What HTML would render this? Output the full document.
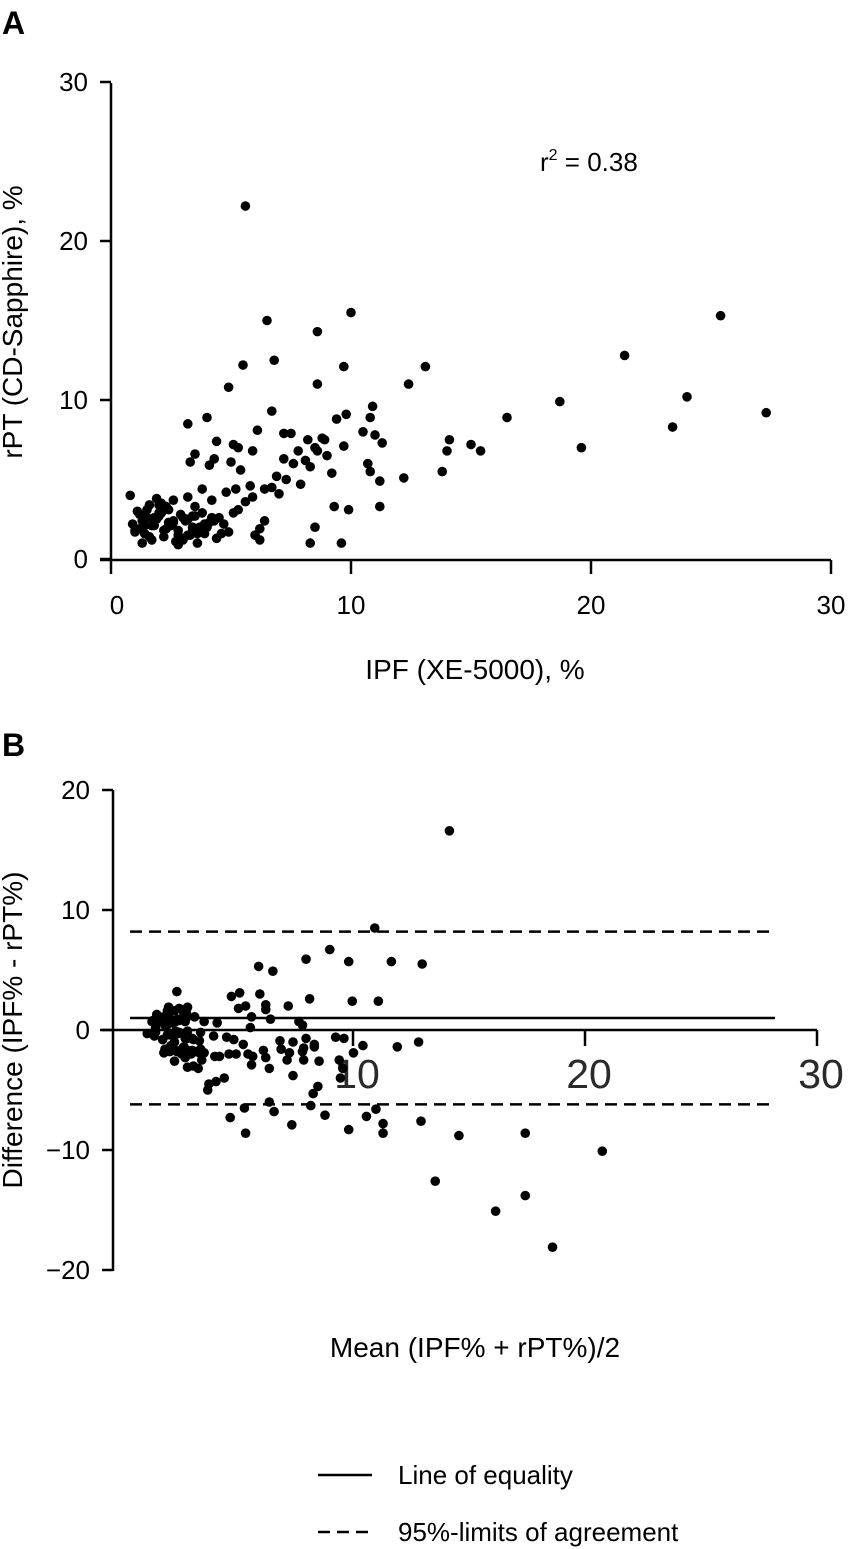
<!DOCTYPE html>
<html><head><meta charset="utf-8"><style>
body{margin:0;background:#fff}
svg{display:block;font-family:"Liberation Sans",sans-serif}
</style></head><body>
<svg id="fig" width="862" height="1549" viewBox="0 0 862 1549">
<text x="2" y="34" font-size="32" font-weight="bold">A</text>
<text x="2" y="756" font-size="32" font-weight="bold">B</text>
<g id="pa"></g>
<g id="pb"></g>
<g>
<line x1="318" y1="1475" x2="372" y2="1475" stroke="#000" stroke-width="2.5"/>
<text x="398" y="1484" font-size="26">Line of equality</text>
<line x1="318" y1="1532" x2="372" y2="1532" stroke="#000" stroke-width="2.5" stroke-dasharray="12,7"/>
<text x="398" y="1541" font-size="26">95%-limits of agreement</text>
</g>
</svg>
<script>
const ipf=[5.6,6.5,8.6,10,25.4,21.4,24,27.3,23.4,18.7,19.6,16.5,14.1,14,13.8,15,15.4,13.1,12.4,12.2,11.2,11.2,10.9,10.8,11.3,10.7,10.8,10.5,11,9.7,8.6,6.8,5.5,4.9,9.9,9.3,9.6,8.3,8.5,6.7,7.2,7.5,6.1,5.9,5.1,5.3,4.4,3.2,4,9,9.4,9.8,9.7,8.2,8.5,8.9,8.1,7.9,7.3,6.7,6.4,5.8,5.2,4.8,4.5,5.1,5.6,5.9,6.2,6.2,7.2,7.6,8.6,8.3,3.5,3.3,4.3,4.1,5,5.4,3.8,4.2,5.3,4.7,4.9,6,6.4,6.9,7,7.8,8.8,9.2,
0.9,1.2,1.4,1.6,1.8,2.0,2.2,2.4,2.6,2.8,3.0,3.2,3.4,3.6,3.8,1.0,1.3,1.5,1.7,1.9,2.1,2.3,2.5,2.7,2.9,3.1,3.3,3.5,3.7,3.9,4.1,1.1,1.4,1.8,2.2,2.6,3.0,3.4,3.8,4.2,0.8,1.2,1.6,2.0,2.4,2.8,3.2,3.6,4.0,4.4,1.0,1.5,2.0,2.5,3.0,3.5,1.3,1.9,2.6,3.2,3.9,2.1,2.8,3.4,4.6,4.3,1.7,2.3,2.9,3.6];
const rpt=[22.2,15,14.3,15.5,15.3,12.8,10.2,9.2,8.3,9.9,7,8.9,7.5,6.8,5.5,7.2,6.8,12.1,11,5.1,3.3,4.9,9.6,8.9,7.3,6,5.5,8,7.8,12.1,11,12.5,12.2,10.8,3.1,3.3,1,1,2,9.3,7.9,7.9,8.1,6.8,7.2,7,7.4,8.5,8.9,6.5,8.8,9.1,7.1,7.5,7,7.5,6.2,4.7,5,4.5,4.4,4.6,4.4,4.2,2.6,2.9,3.6,3.9,1.9,1.2,6.3,6,6.8,5.8,6.6,6.1,6.3,5.9,6.1,5.6,4.4,3.7,3.1,2.2,1.7,1.5,2.4,5.2,4.1,6.8,7.6,5.4,
2.2,2.8,1.6,3.4,2.1,2.7,1.4,3.1,2.3,1.8,2.6,3.9,2.0,1.6,2.9,1.7,2.4,3.1,1.2,2.5,3.5,1.9,2.2,1.1,2.8,2.4,1.5,3.3,2.0,1.6,2.3,3.0,2.1,2.6,1.8,3.7,1.3,2.7,1.9,2.6,4.0,1.9,1.4,2.9,2.3,0.9,2.5,1.7,2.0,1.3,1.8,2.6,3.4,2.1,1.2,2.7,1.0,3.8,2.4,1.5,2.2,2.9,1.5,1.9,1.6,2.4,2.1,3.3,1.2,1.0];
const aTicks=[0,10,20,30];
const bYTicks=[20,10,0,-10,-20];
const bXTickLabels=[10,20,30];
const meanDiff=[1.0];
const limits=[8.2,-6.2];
const NS="http://www.w3.org/2000/svg";
function mk(p,t,a){const e=document.createElementNS(NS,t);for(const k in a)e.setAttribute(k,a[k]);p.appendChild(e);return e;}
const pa=document.getElementById('pa'),pb=document.getElementById('pb');
const ax=v=>111+24*v, ay=v=>559-15.9*v;
let e=mk(pa,'line',{x1:111,y1:83,x2:111,y2:560,stroke:'#000','stroke-width':2.5});

e=mk(pa,'line',{x1:100,y1:560,x2:831,y2:560,stroke:'#000','stroke-width':2.5});

aTicks.forEach(t=>{
 e=mk(pa,'line',{x1:100,y1:ay(t),x2:111,y2:ay(t),stroke:'#000','stroke-width':2.5});
 
 e=mk(pa,'text',{x:88,y:ay(t)+9,'font-size':26,'text-anchor':'end'});e.textContent=t;
 
 e=mk(pa,'line',{x1:ax(t),y1:560,x2:ax(t),y2:574,stroke:'#000','stroke-width':2.5});
 
 e=mk(pa,'text',{x:ax(t)+(t==0?6:0),y:614,'font-size':26,'text-anchor':'middle'});e.textContent=t;
 
});
e=mk(pa,'text',{x:475,y:679,'font-size':28,'text-anchor':'middle'});e.textContent='IPF (XE-5000), %';

e=mk(pa,'text',{x:22,y:322,'font-size':28,'text-anchor':'middle',transform:'rotate(-90 22 322)'});e.textContent='rPT (CD-Sapphire), %';

e=mk(pa,'text',{x:540,y:171,'font-size':26});e.innerHTML='r<tspan font-size="16" dy="-11">2</tspan><tspan dy="11"> = 0.38</tspan>';

ipf.forEach((v,i)=>{e=mk(pa,'circle',{cx:ax(v),cy:ay(rpt[i]),r:4.8,fill:'#000'});
 });
const bx=v=>120+23.7*v, by=v=>1030-12*v, bl=v=>121+23.2*v;
e=mk(pb,'line',{x1:113,y1:790,x2:113,y2:1271,stroke:'#000','stroke-width':2.5});

e=mk(pb,'line',{x1:100,y1:1030,x2:817,y2:1030,stroke:'#000','stroke-width':2.5});

bYTicks.forEach(t=>{
 e=mk(pb,'line',{x1:102,y1:by(t),x2:113,y2:by(t),stroke:'#000','stroke-width':2.5});
 
 e=mk(pb,'text',{x:90,y:by(t)+9,'font-size':26,'text-anchor':'end'});e.textContent=t<0?'\u2212'+(-t):t;
 
});
bXTickLabels.forEach(t=>{
 e=mk(pb,'line',{x1:bl(t),y1:1030,x2:bl(t),y2:1046,stroke:'#000','stroke-width':2.5});
 
 e=mk(pb,'text',{x:bl(t)+4,y:1088,'font-size':41,'text-anchor':'middle',fill:'#2a2a2a'});e.textContent=t;
 
});
e=mk(pb,'line',{x1:130,y1:by(meanDiff[0]),x2:775,y2:by(meanDiff[0]),stroke:'#000','stroke-width':2.5});

limits.forEach(l=>{e=mk(pb,'line',{x1:130,y1:by(l),x2:775,y2:by(l),stroke:'#000','stroke-width':2.5,'stroke-dasharray':'12,7'});
 });
ipf.forEach((v,i)=>{e=mk(pb,'circle',{cx:bx((v+rpt[i])/2),cy:by(rpt[i]-v),r:4.8,fill:'#000'});
 });
e=mk(pb,'text',{x:475,y:1357,'font-size':28,'text-anchor':'middle'});e.textContent='Mean (IPF% + rPT%)/2';

e=mk(pb,'text',{x:22,y:1030,'font-size':28,'text-anchor':'middle',transform:'rotate(-90 22 1030)'});e.textContent='Difference (IPF% - rPT%)';

</script>
</body></html>
